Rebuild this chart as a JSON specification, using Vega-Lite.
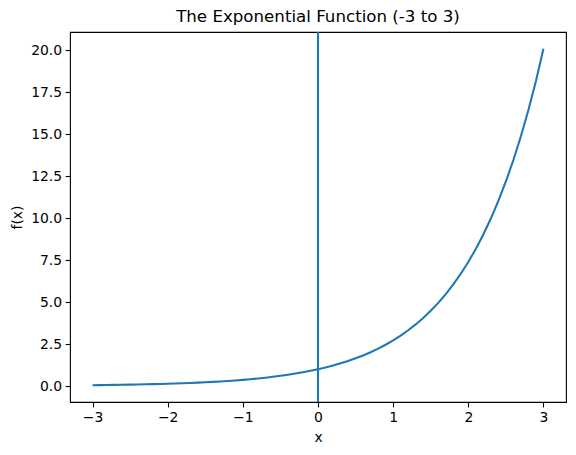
{
  "$schema": "https://vega.github.io/schema/vega-lite/v6.json",
  "width": 496,
  "height": 370,
  "autosize": {"type": "none"},
  "padding": {"left": 70, "top": 32, "right": 10, "bottom": 53},
  "config": {
    "font": "DejaVu Sans",
    "view": {"stroke": "black", "strokeWidth": 1.1},
    "axis": {
      "domain": false,
      "grid": false,
      "tickColor": "black",
      "tickWidth": 1.1,
      "tickSize": 4.9,
      "labelPadding": 3.5,
      "labelFontSize": 13.9,
      "labelColor": "black",
      "labelFont": "DejaVu Sans",
      "titleFont": "DejaVu Sans",
      "titleFontSize": 13.9,
      "titleFontWeight": "normal",
      "titleColor": "black"
    }
  },
  "title": {
    "text": "The Exponential Function (-3 to 3)",
    "font": "DejaVu Sans",
    "fontSize": 16.67,
    "fontWeight": "normal",
    "color": "black",
    "anchor": "middle",
    "offset": 5
  },
  "data": {
    "values": [
      {"x": -3.0, "y": 0.0498}, {"x": -2.9, "y": 0.0550}, {"x": -2.8, "y": 0.0608},
      {"x": -2.7, "y": 0.0672}, {"x": -2.6, "y": 0.0743}, {"x": -2.5, "y": 0.0821},
      {"x": -2.4, "y": 0.0907}, {"x": -2.3, "y": 0.1003}, {"x": -2.2, "y": 0.1108},
      {"x": -2.1, "y": 0.1225}, {"x": -2.0, "y": 0.1353}, {"x": -1.9, "y": 0.1496},
      {"x": -1.8, "y": 0.1653}, {"x": -1.7, "y": 0.1827}, {"x": -1.6, "y": 0.2019},
      {"x": -1.5, "y": 0.2231}, {"x": -1.4, "y": 0.2466}, {"x": -1.3, "y": 0.2725},
      {"x": -1.2, "y": 0.3012}, {"x": -1.1, "y": 0.3329}, {"x": -1.0, "y": 0.3679},
      {"x": -0.9, "y": 0.4066}, {"x": -0.8, "y": 0.4493}, {"x": -0.7, "y": 0.4966},
      {"x": -0.6, "y": 0.5488}, {"x": -0.5, "y": 0.6065}, {"x": -0.4, "y": 0.6703},
      {"x": -0.3, "y": 0.7408}, {"x": -0.2, "y": 0.8187}, {"x": -0.1, "y": 0.9048},
      {"x": 0.0, "y": 1.0}, {"x": 0.1, "y": 1.1052}, {"x": 0.2, "y": 1.2214},
      {"x": 0.3, "y": 1.3499}, {"x": 0.4, "y": 1.4918}, {"x": 0.5, "y": 1.6487},
      {"x": 0.6, "y": 1.8221}, {"x": 0.7, "y": 2.0138}, {"x": 0.8, "y": 2.2255},
      {"x": 0.9, "y": 2.4596}, {"x": 1.0, "y": 2.7183}, {"x": 1.1, "y": 3.0042},
      {"x": 1.2, "y": 3.3201}, {"x": 1.3, "y": 3.6693}, {"x": 1.4, "y": 4.0552},
      {"x": 1.5, "y": 4.4817}, {"x": 1.6, "y": 4.9530}, {"x": 1.7, "y": 5.4739},
      {"x": 1.8, "y": 6.0496}, {"x": 1.9, "y": 6.6859}, {"x": 2.0, "y": 7.3891},
      {"x": 2.1, "y": 8.1662}, {"x": 2.2, "y": 9.0250}, {"x": 2.3, "y": 9.9742},
      {"x": 2.4, "y": 11.0232}, {"x": 2.5, "y": 12.1825}, {"x": 2.6, "y": 13.4637},
      {"x": 2.7, "y": 14.8797}, {"x": 2.8, "y": 16.4446}, {"x": 2.9, "y": 18.1741},
      {"x": 3.0, "y": 20.0855}
    ]
  },
  "layer": [
    {
      "mark": {"type": "line", "color": "#1f77b4", "strokeWidth": 2.08, "clip": true},
      "encoding": {
        "x": {
          "field": "x", "type": "quantitative",
          "scale": {"domain": [-3.3, 3.3], "nice": false, "zero": false},
          "axis": {"values": [-3, -2, -1, 0, 1, 2, 3], "format": "d", "title": "x", "titlePadding": 6}
        },
        "y": {
          "field": "y", "type": "quantitative",
          "scale": {"domain": [-0.952, 21.087], "nice": false, "zero": false},
          "axis": {"values": [0, 2.5, 5, 7.5, 10, 12.5, 15, 17.5, 20], "format": ".1f", "title": "f(x)", "titlePadding": 6}
        }
      }
    },
    {
      "data": {"values": [{"x0": 0}]},
      "mark": {"type": "rule", "color": "#1f77b4", "strokeWidth": 2.08},
      "encoding": {
        "x": {"field": "x0", "type": "quantitative"}
      }
    }
  ]
}
